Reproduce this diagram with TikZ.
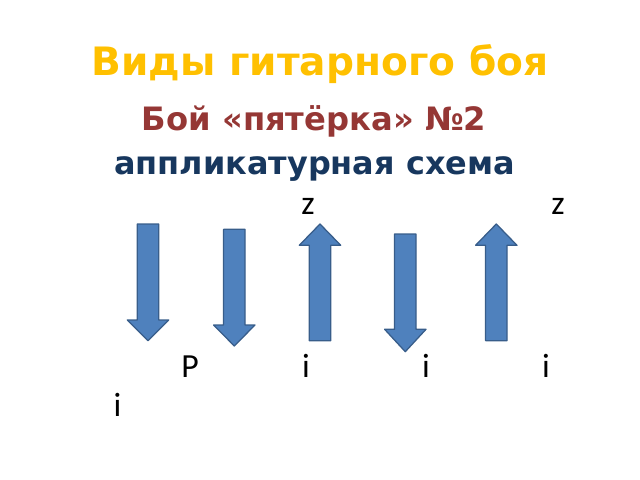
\documentclass[tikz,border=0pt]{standalone}
\usepackage{fontspec}
\setmainfont{DejaVu Sans}
\newfontfamily\strumfont{Carlito}
\definecolor{titlegold}{HTML}{FFC000}
\definecolor{kindred}{HTML}{953735}
\definecolor{schemeblue}{HTML}{17375E}
\definecolor{arrowfill}{HTML}{4F81BD}
\definecolor{arrowline}{HTML}{385D8A}
\begin{document}
\begin{tikzpicture}[x=0.025cm, y=-0.025cm,
    strum/.style={draw=arrowline, fill=arrowfill, line width=0.9pt, line join=round},
    finger/.style={anchor=base, font=\strumfont\fontsize{24}{28}\selectfont}]
  \useasboundingbox (0,0) rectangle (640,480);
  \node[anchor=base, text=titlegold, font=\bfseries\fontsize{27.8}{33}\selectfont] (title) at (320,75) {Виды гитарного боя};
  \node[anchor=base, text=kindred, font=\bfseries\fontsize{22.9}{27}\selectfont] (kind) at (314,130) {Бой «пятёрка» №2};
  \node[anchor=base, text=schemeblue, font=\bfseries\fontsize{22.7}{27}\selectfont] (scheme) at (314.5,174) {аппликатурная схема};
  % strokes: x / tail / head base / tip
  \foreach \x/\t/\h/\b in {148/224/320/340.7, 234.3/229.3/325/346, 320/340.7/245.3/224,
      405.3/234/329.3/351.7, 496.3/340.7/245.3/224}
    \draw[strum] (\x-10.7,\t) -- (\x+10.7,\t) -- (\x+10.7,\h) -- (\x+20.7,\h) -- (\x,\b)
      -- (\x-20.7,\h) -- (\x-10.7,\h) -- cycle;
  \node[finger] (z1) at (308,214) {z};
  \node[finger] (z2) at (558,214) {z};
  \node[finger] (p1) at (190,377.7) {P};
  \node[finger] (i1) at (306,377.7) {i};
  \node[finger] (i2) at (426,377.7) {i};
  \node[finger] (i3) at (546,377.7) {i};
  \node[finger] (i4) at (117.5,416) {i};
\end{tikzpicture}
\end{document}
